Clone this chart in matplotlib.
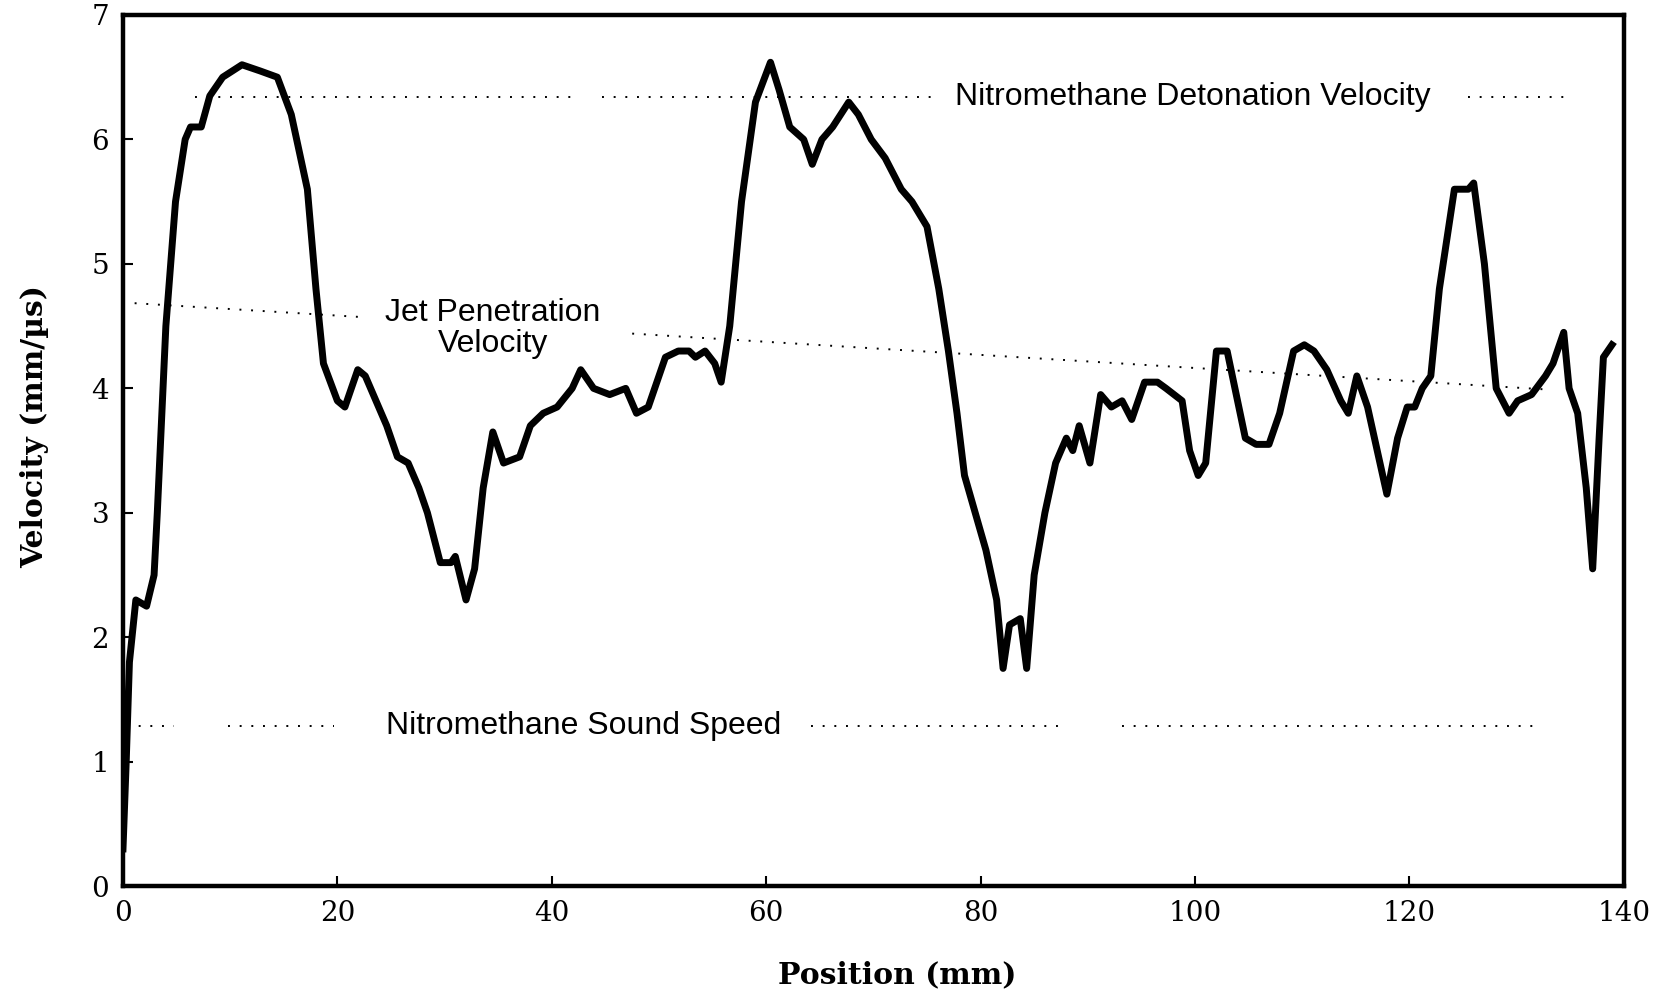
import matplotlib.pyplot as plt

# velocity trace
position = [0.0, 0.3, 0.6, 1.2, 2.2, 2.9, 3.2, 4.0, 4.9, 5.8, 6.3, 7.3, 8.1, 9.3, 11.1,
            12.8, 14.4, 15.7, 17.2, 18.0, 18.7, 20.0, 20.7, 21.9, 22.6, 23.6, 24.6,
            25.6, 26.6, 27.6, 28.4, 29.6, 30.6, 31.0, 32.0, 32.8, 33.6, 34.5, 35.5,
            37.0, 38.0, 39.2, 40.5, 41.9, 42.7, 43.9, 45.4, 46.9, 47.9, 49.0, 49.8,
            50.6, 51.8, 52.8, 53.4, 54.3, 55.2, 55.8, 56.6, 57.7, 59.0, 60.4, 61.2,
            62.2, 63.5, 64.3, 65.2, 66.2, 67.7, 68.6, 69.8, 71.1, 72.6, 73.6, 75.0,
            76.1, 77.0, 77.8, 78.5, 79.5, 80.5, 81.5, 82.1, 82.7, 83.7, 84.3, 85.0,
            86.0, 87.0, 88.0, 88.6, 89.2, 90.2, 91.2, 92.2, 93.2, 94.1, 95.3, 96.5,
            97.3, 98.8, 99.5, 100.3, 101.0, 102.0, 103.0, 104.7, 105.7, 106.9, 107.9,
            109.2, 110.2, 111.1, 112.3, 113.6, 114.3, 115.1, 116.1, 117.9, 118.9,
            119.8, 120.5, 121.2, 122.0, 122.8, 124.2, 125.5, 126.0, 127.0, 128.1,
            129.3, 130.1, 131.4, 132.7, 133.4, 134.4, 134.9, 135.7, 136.5, 137.1,
            137.7, 138.1, 138.9]
velocity = [0.3, 1.0, 1.8, 2.3, 2.25, 2.5, 3.0, 4.5, 5.5, 6.0, 6.1, 6.1, 6.35, 6.5, 6.6,
            6.55, 6.5, 6.2, 5.6, 4.8, 4.2, 3.9, 3.85, 4.15, 4.1, 3.9, 3.7,
            3.45, 3.4, 3.2, 3.0, 2.6, 2.6, 2.65, 2.3, 2.55, 3.2, 3.65, 3.4,
            3.45, 3.7, 3.8, 3.85, 4.0, 4.15, 4.0, 3.95, 4.0, 3.8, 3.85, 4.05,
            4.25, 4.3, 4.3, 4.25, 4.3, 4.2, 4.05, 4.5, 5.5, 6.3, 6.62, 6.4,
            6.1, 6.0, 5.8, 6.0, 6.1, 6.3, 6.2, 6.0, 5.85, 5.6, 5.5, 5.3,
            4.8, 4.3, 3.8, 3.3, 3.0, 2.7, 2.3, 1.75, 2.1, 2.15, 1.75, 2.5,
            3.0, 3.4, 3.6, 3.5, 3.7, 3.4, 3.95, 3.85, 3.9, 3.75, 4.05, 4.05,
            4.0, 3.9, 3.5, 3.3, 3.4, 4.3, 4.3, 3.6, 3.55, 3.55, 3.8,
            4.3, 4.35, 4.3, 4.15, 3.9, 3.8, 4.1, 3.85, 3.15, 3.6,
            3.85, 3.85, 4.0, 4.1, 4.8, 5.6, 5.6, 5.65, 5.0, 4.0,
            3.8, 3.9, 3.95, 4.1, 4.2, 4.45, 4.0, 3.8, 3.2, 2.55,
            3.6, 4.25, 4.35]

# reference levels
detonation_v = 6.34
sound_v = 1.29
jet_x = [0.0, 133.0]
jet_v = [4.69, 3.99]

det_segments = [(6.7, 42.4), (44.7, 76.0), (125.5, 135.0)]
sound_segments = [(0.4, 4.8), (9.8, 19.7), (64.2, 87.9), (93.2, 132.4)]
jet_segments = [(0.0, 22.0), (47.5, 133.0)]

xticks = [0, 20, 40, 60, 80, 100, 120, 140]
xtick_labels = ["0", "20", "40", "60", "80", "100", "120", "140"]
yticks = [0, 1, 2, 3, 4, 5, 6, 7]


def jet_at(x):
    return jet_v[0] + (jet_v[1] - jet_v[0]) * (x - jet_x[0]) / (jet_x[1] - jet_x[0])


fig = plt.figure(figsize=(16.62, 9.98), dpi=100)
ax = fig.add_axes([0.074, 0.112, 0.903, 0.873])

dots = dict(color="black", lw=1.4, linestyle=(0, (1, 5)))
for a, b in det_segments:
    ax.plot([a, b], [detonation_v, detonation_v], **dots)
for a, b in sound_segments:
    ax.plot([a, b], [sound_v, sound_v], **dots)
for a, b in jet_segments:
    ax.plot([a, b], [jet_at(a), jet_at(b)], **dots)

ax.plot(position, velocity, color="black", lw=5, solid_joinstyle="round")

txt = dict(family="Liberation Sans", fontsize=23, color="black")
ax.text(77.6, detonation_v, "Nitromethane Detonation Velocity", va="center", ha="left", **txt)
ax.text(34.5, 4.48, "Jet Penetration\nVelocity", va="center", ha="center",
        linespacing=1.05, **txt)
ax.text(24.5, sound_v, "Nitromethane Sound Speed", va="center", ha="left", **txt)

ax.set_xlim(0, 140)
ax.set_ylim(0, 7)
ax.set_xticks(xticks)
ax.set_xticklabels(xtick_labels)
ax.set_yticks(yticks)
for s in ax.spines.values():
    s.set_linewidth(3.2)
ax.tick_params(direction="in", length=7, width=1.5, labelsize=20, pad=10)
for lab in ax.get_xticklabels() + ax.get_yticklabels():
    lab.set_family("DejaVu Serif")

ax.set_xlabel("Position (mm)", family="DejaVu Serif", fontweight="bold", fontsize=21.5)
ax.set_ylabel("Velocity (mm/\u00b5s)", family="DejaVu Serif", fontweight="bold", fontsize=21.5)
ax.xaxis.set_label_coords(0.516, -0.085)
ax.yaxis.set_label_coords(-0.049, 0.528)

fig.savefig("out.png", dpi=100)
